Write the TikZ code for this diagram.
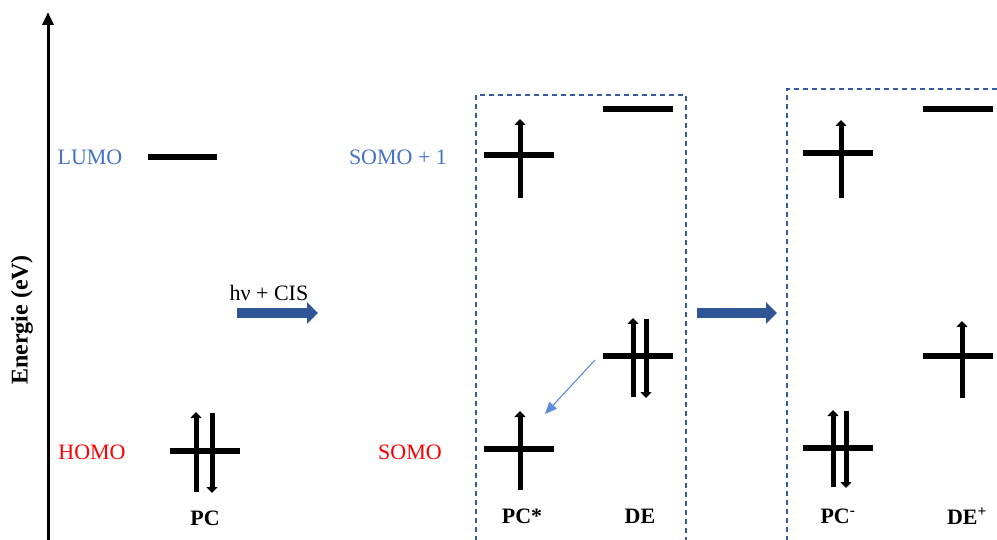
\documentclass[tikz,border=0pt]{standalone}
\usepackage{fontspec}
\setmainfont{Liberation Serif}
\usetikzlibrary{arrows.meta}
\definecolor{lblue}{HTML}{4472C4}
\definecolor{dblue}{HTML}{2F5597}
\definecolor{abblue}{HTML}{5B8BD9}
\tikzset{
  lvl/.style={line width=5.5pt},
  spin/.style={line width=5pt,-{Triangle[width=11pt,length=6pt]}},
  lab/.style={font=\fontsize{22}{26}\selectfont, inner sep=0pt},
  blab/.style={font=\fontsize{22}{26}\selectfont\bfseries, inner sep=0pt},
  box/.style={draw=dblue!80!lblue, line width=1.5pt, dash pattern=on 5pt off 4pt},
  bigarrow/.style={draw=dblue, line width=10pt, -{Triangle[width=21pt,length=11pt]}},
}
\begin{document}
\begin{tikzpicture}[x=1pt,y=-1pt]
\useasboundingbox (0,0) rectangle (997,540);
% axis
\coordinate (ax0) at (48,545);
\coordinate (ax1) at (48,12);
\draw[line width=3pt,-{Triangle[width=11pt,length=13pt]}] (ax0) -- (ax1);
\node[blab, font=\fontsize{24}{28}\selectfont\bfseries, rotate=90] (en) at (22,320) {Energie (eV)};
% labels
\node[lab, text=lblue] (lumo) at (90,157) {LUMO};
\node[lab, text=red] (homo) at (92,452) {HOMO};
\node[lab, text=lblue] (somo1) at (398,157) {SOMO + 1};
\node[lab, text=red] (somo) at (410,452) {SOMO};
\node[lab] (hv) at (269,293) {hν + CIS};
\node[blab] (pc) at (205,518) {PC};
\node[blab] (pcs) at (522,516) {PC*};
\node[blab] (de) at (640,516) {DE};
\node[blab] (pcm) at (838,516) {PC\textsuperscript{-}};
\node[blab] (dep) at (967,516) {DE\textsuperscript{+}};
% PC
\draw[lvl] (148,157) coordinate (l1a) -- (217,157) coordinate (l1b);
\draw[lvl] (170,451) -- (240,451);
\draw[spin] (196,492) -- (196,412);
\draw[spin] (212,413) -- (212,493);
% big arrow 1
\coordinate (a1s) at (237,313);
\coordinate (a1e) at (318,313);
\draw[bigarrow] (a1s) -- (a1e);
% box 1
\draw[box] (476,541) -- (476,95) -- (686,95) -- (686,541);
% PC* upper
\draw[lvl] (484,155) -- (554,155);
\draw[spin] (520,198) -- (520,119);
% DE top
\draw[lvl] (603,109) -- (673,109);
% DE cross
\draw[lvl] (603,356) -- (673,356);
\draw[spin] (633,397) -- (633,318);
\draw[spin] (646,319) -- (646,398);
% PC* lower
\draw[lvl] (484,449) -- (554,449);
\draw[spin] (520,490) -- (520,411);
% thin transfer arrow
\coordinate (ts) at (595,360);
\coordinate (te) at (545,414);
\draw[abblue, line width=1.1pt, -{Triangle[width=10pt,length=12pt]}] (ts) -- (te);
% big arrow 2
\coordinate (a2s) at (697,313);
\coordinate (a2e) at (777,313);
\draw[bigarrow] (a2s) -- (a2e);
% box 2
\draw[box] (787,541) -- (787,89) -- (1000,89);
% PC- upper
\draw[lvl] (803,153) -- (873,153);
\draw[spin] (841,198) -- (841,120);
% DE+ top
\draw[lvl] (923,109) -- (993,109);
% DE+ cross
\draw[lvl] (923,356) -- (993,356);
\draw[spin] (962,398) -- (962,321);
% PC- lower
\draw[lvl] (803,448) -- (873,448);
\draw[spin] (833,487) -- (833,410);
\draw[spin] (846,411) -- (846,488);
\end{tikzpicture}
\end{document}
